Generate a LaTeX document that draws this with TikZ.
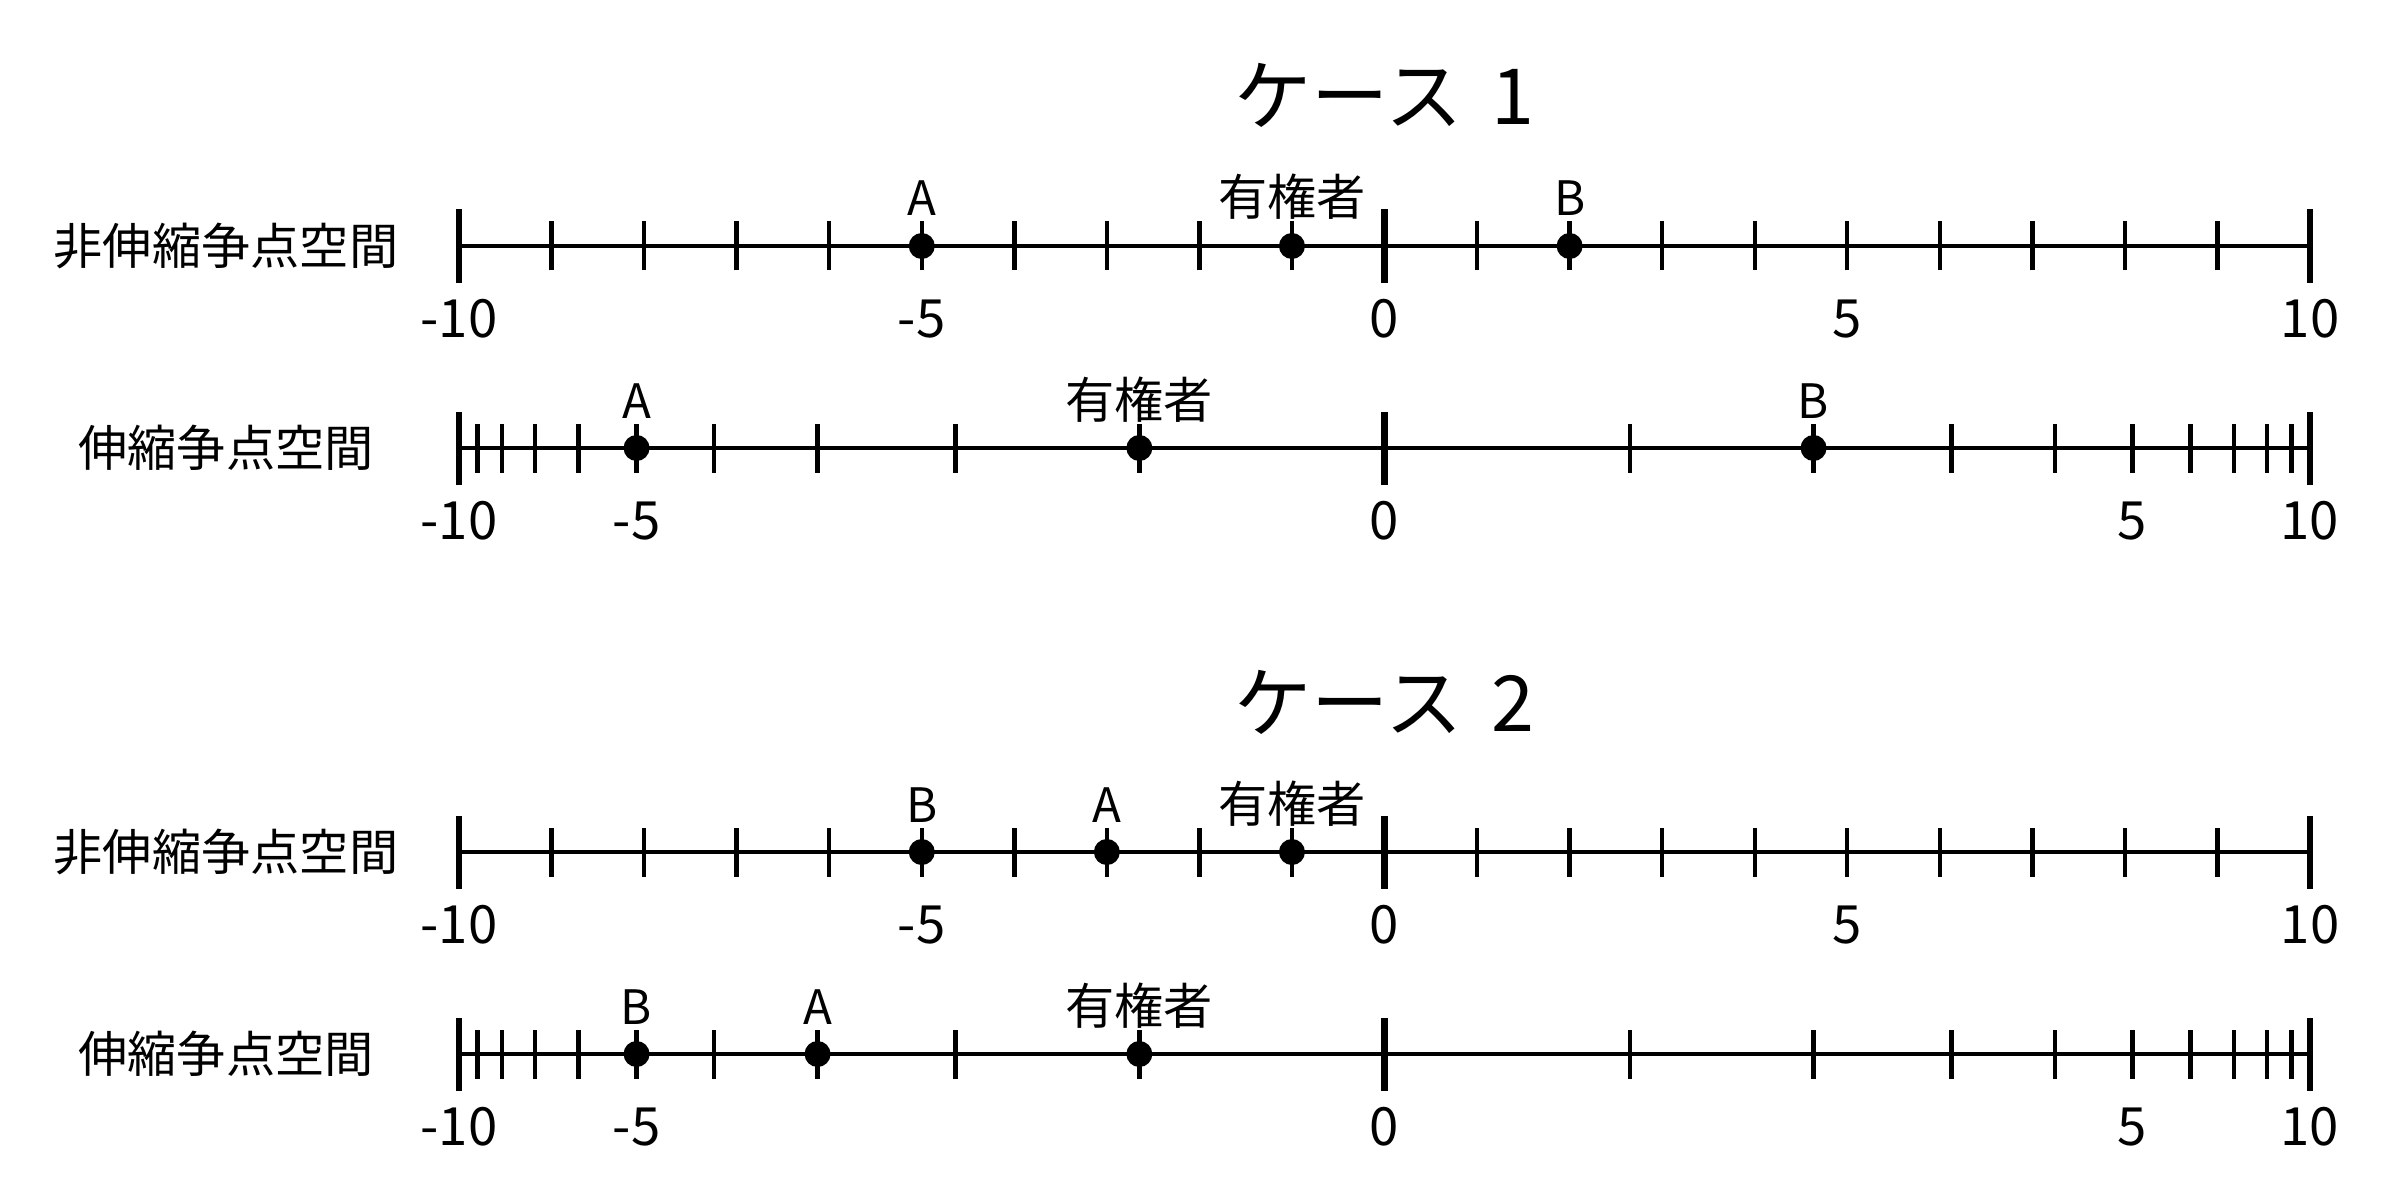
\documentclass[tikz,border=0pt]{standalone}
\usepackage{fontspec}
\setmainfont{Noto Sans CJK JP}
\begin{document}
\begin{tikzpicture}[x=1cm,y=1cm,
  declare function={lx(\k)=13.845+0.9255*\k; sx(\k)=13.845+9.255*sign(\k)*(1-0.75^abs(\k))/0.9436865;},
  axisline/.style={line width=1.05pt},
  minortick/.style={line width=1.25pt},
  majortick/.style={line width=1.9pt},
  dotmark/.style={circle,fill=black,inner sep=0pt,minimum size=0.26cm},
  ptlab/.style={font=\fontsize{13.5}{16}\selectfont,anchor=base,inner sep=0pt},
  cjklab/.style={font=\fontsize{14}{16}\selectfont,anchor=base,inner sep=0pt},
  numlab/.style={font=\fontsize{15}{17}\selectfont,anchor=base,inner sep=0pt},
  rowlab/.style={font=\fontsize{14}{16}\selectfont,inner sep=0pt},
  titlelab/.style={font=\fontsize{22}{26}\selectfont,inner sep=0pt}]
\useasboundingbox (0,0) rectangle (24,12);

% ---------- Case 1 ----------
\node[titlelab] (t1) at (13.845,11.05) {ケース\hspace{0.15em} 1};

% row 1: linear
\def\ya{9.54}
\node[rowlab] (r1l) at (2.26,\ya) {非伸縮争点空間};
\coordinate (r1a) at ({lx(-10)},\ya);
\coordinate (r1b) at ({lx(10)},\ya);
\draw[axisline] (r1a) -- (r1b);
\foreach \k in {-9,...,9} \draw[minortick] ({lx(\k)},\ya-0.245) -- ({lx(\k)},\ya+0.245);
\foreach \k in {-10,0,10} \draw[majortick] ({lx(\k)},\ya-0.365) -- ({lx(\k)},\ya+0.365);
\foreach \k in {-10,-5,0,5,10} \node[numlab] at ({lx(\k)},\ya-0.91) {\k};
\node[dotmark] (a1) at ({lx(-5)},\ya) {};
\node[dotmark] (v1) at ({lx(-1)},\ya) {};
\node[dotmark] (b1) at ({lx(2)},\ya) {};
\path (a1) ++(0,0.30) node[ptlab] (a1l) {A};
\path (v1) ++(0,0.30) node[cjklab] (v1l) {有権者};
\path (b1) ++(0,0.30) node[ptlab] (b1l) {B};

% row 2: stretched
\def\yb{7.52}
\node[rowlab] (r2l) at (2.26,\yb) {伸縮争点空間};
\coordinate (r2a) at ({sx(-10)},\yb);
\coordinate (r2b) at ({sx(10)},\yb);
\draw[axisline] (r2a) -- (r2b);
\foreach \k in {-9,...,9} \draw[minortick] ({sx(\k)},\yb-0.245) -- ({sx(\k)},\yb+0.245);
\foreach \k in {-10,0,10} \draw[majortick] ({sx(\k)},\yb-0.365) -- ({sx(\k)},\yb+0.365);
\foreach \k in {-10,-5,0,5,10} \node[numlab] at ({sx(\k)},\yb-0.91) {\k};
\node[dotmark] (a2) at ({sx(-5)},\yb) {};
\node[dotmark] (v2) at ({sx(-1)},\yb) {};
\node[dotmark] (b2) at ({sx(2)},\yb) {};
\path (a2) ++(0,0.30) node[ptlab] (a2l) {A};
\path (v2) ++(0,0.30) node[cjklab] (v2l) {有権者};
\path (b2) ++(0,0.30) node[ptlab] (b2l) {B};

% ---------- Case 2 ----------
\node[titlelab] (t2) at (13.845,4.98) {ケース\hspace{0.15em} 2};

% row 3: linear
\def\yc{3.48}
\node[rowlab] (r3l) at (2.26,\yc) {非伸縮争点空間};
\coordinate (r3a) at ({lx(-10)},\yc);
\coordinate (r3b) at ({lx(10)},\yc);
\draw[axisline] (r3a) -- (r3b);
\foreach \k in {-9,...,9} \draw[minortick] ({lx(\k)},\yc-0.245) -- ({lx(\k)},\yc+0.245);
\foreach \k in {-10,0,10} \draw[majortick] ({lx(\k)},\yc-0.365) -- ({lx(\k)},\yc+0.365);
\foreach \k in {-10,-5,0,5,10} \node[numlab] at ({lx(\k)},\yc-0.91) {\k};
\node[dotmark] (b3) at ({lx(-5)},\yc) {};
\node[dotmark] (a3) at ({lx(-3)},\yc) {};
\node[dotmark] (v3) at ({lx(-1)},\yc) {};
\path (b3) ++(0,0.30) node[ptlab] (b3l) {B};
\path (a3) ++(0,0.30) node[ptlab] (a3l) {A};
\path (v3) ++(0,0.30) node[cjklab] (v3l) {有権者};

% row 4: stretched
\def\yd{1.46}
\node[rowlab] (r4l) at (2.26,\yd) {伸縮争点空間};
\coordinate (r4a) at ({sx(-10)},\yd);
\coordinate (r4b) at ({sx(10)},\yd);
\draw[axisline] (r4a) -- (r4b);
\foreach \k in {-9,...,9} \draw[minortick] ({sx(\k)},\yd-0.245) -- ({sx(\k)},\yd+0.245);
\foreach \k in {-10,0,10} \draw[majortick] ({sx(\k)},\yd-0.365) -- ({sx(\k)},\yd+0.365);
\foreach \k in {-10,-5,0,5,10} \node[numlab] at ({sx(\k)},\yd-0.91) {\k};
\node[dotmark] (b4) at ({sx(-5)},\yd) {};
\node[dotmark] (a4) at ({sx(-3)},\yd) {};
\node[dotmark] (v4) at ({sx(-1)},\yd) {};
\path (b4) ++(0,0.30) node[ptlab] (b4l) {B};
\path (a4) ++(0,0.30) node[ptlab] (a4l) {A};
\path (v4) ++(0,0.30) node[cjklab] (v4l) {有権者};
\end{tikzpicture}
\end{document}
